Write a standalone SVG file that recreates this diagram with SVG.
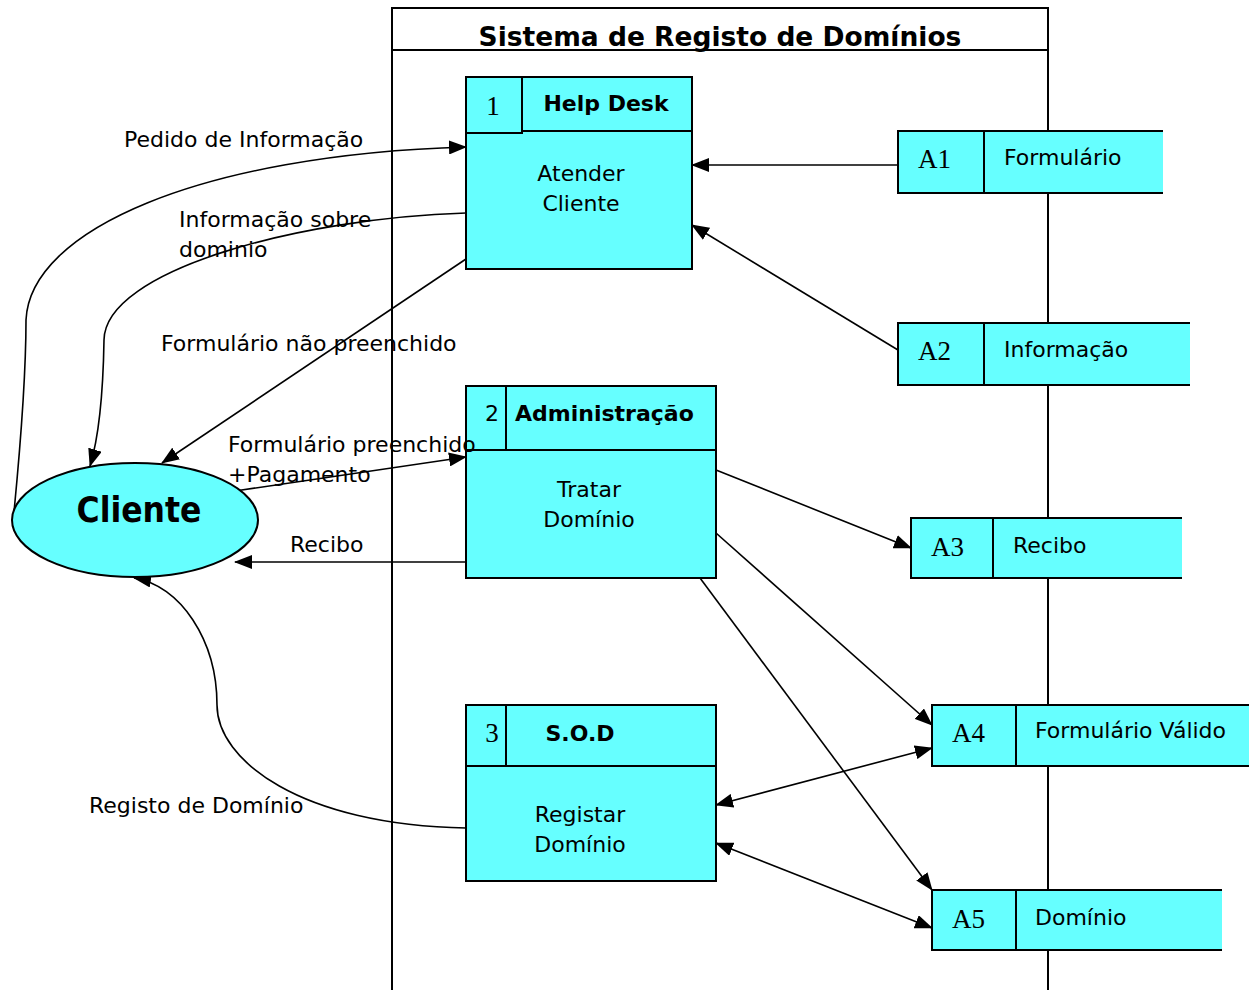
<svg xmlns="http://www.w3.org/2000/svg" width="1249" height="990" viewBox="0 0 1249 990">
<style>
.t{font-family:"DejaVu Sans",Verdana,sans-serif;font-size:22px;fill:#000}
.b{font-weight:bold}
.s{font-family:"Liberation Serif",serif;font-size:27px;fill:#000}
.box{fill:#66ffff;stroke:#000;stroke-width:2}
.ln{stroke:#000;stroke-width:2;fill:none}
.c{fill:none;stroke:#000;stroke-width:1.6}
</style>
<defs>
<marker id="ah" markerUnits="userSpaceOnUse" markerWidth="18" markerHeight="14" viewBox="0 0 18 14" refX="17" refY="7" orient="auto-start-reverse">
<path d="M0,0 L18,7 L0,14 Z" fill="#000"/>
</marker>
</defs>
<rect width="1249" height="990" fill="#fff"/>
<g id="system">
<rect x="392" y="8" width="656" height="990" fill="none" stroke="#000" stroke-width="2"/>
<line x1="392" y1="50" x2="1048" y2="50" class="ln"/>
<text x="720" y="46" text-anchor="middle" class="t b" style="font-size:26.5px">Sistema de Registo de Domínios</text>
</g>
<g id="connectors">
<path class="c" d="M14,512 C20,450 26,380 26,320 C30,230 200,155 466,147" marker-end="url(#ah)"/>
<path class="c" d="M466,213 C300,218 105,270 104,340 C103,400 98,440 90,466" marker-end="url(#ah)"/>
<line class="c" x1="466" y1="259" x2="162" y2="463" marker-end="url(#ah)"/>
<line class="c" x1="235" y1="491" x2="466" y2="457" marker-end="url(#ah)"/>
<line class="c" x1="466" y1="562" x2="235" y2="562" marker-end="url(#ah)"/>
<path class="c" d="M466,828 C300,825 217,760 217,705 C217,640 180,585 134,578" marker-end="url(#ah)"/>
<line class="c" x1="898" y1="165" x2="692" y2="165" marker-end="url(#ah)"/>
<line class="c" x1="898" y1="350" x2="692" y2="225" marker-end="url(#ah)"/>
<line class="c" x1="716" y1="470" x2="911" y2="548" marker-end="url(#ah)"/>
<line class="c" x1="716" y1="533" x2="932" y2="725" marker-end="url(#ah)"/>
<line class="c" x1="700" y1="578" x2="932" y2="890" marker-end="url(#ah)"/>
<line class="c" x1="716" y1="805" x2="932" y2="748" marker-start="url(#ah)" marker-end="url(#ah)"/>
<line class="c" x1="716" y1="843" x2="932" y2="928" marker-start="url(#ah)" marker-end="url(#ah)"/>
</g>
<g id="cliente">
<ellipse cx="135" cy="520" rx="123" ry="57" class="box"/>
<text x="139" y="522" text-anchor="middle" class="t b" style="font-family:'DejaVu Sans Condensed','DejaVu Sans',sans-serif;font-size:35px">Cliente</text>
</g>
<g id="p1">
<rect x="466" y="131" width="226" height="138" class="box"/>
<rect x="466" y="77" width="56" height="56" class="box"/>
<rect x="522" y="77" width="170" height="54" class="box"/>
<text x="493" y="115" text-anchor="middle" class="s">1</text>
<text x="606" y="111" text-anchor="middle" class="t b">Help Desk</text>
<text x="581" y="181" text-anchor="middle" class="t">Atender</text>
<text x="581" y="211" text-anchor="middle" class="t">Cliente</text>
</g>
<g id="p2">
<rect x="466" y="386" width="250" height="192" class="box"/>
<line x1="466" y1="450" x2="716" y2="450" class="ln"/>
<line x1="506" y1="386" x2="506" y2="450" class="ln"/>
<text x="492" y="421" text-anchor="middle" class="t">2</text>
<text x="515" y="421" class="t b">Administração</text>
<text x="589" y="497" text-anchor="middle" class="t">Tratar</text>
<text x="589" y="527" text-anchor="middle" class="t">Domínio</text>
</g>
<g id="p3">
<rect x="466" y="705" width="250" height="176" class="box"/>
<line x1="466" y1="766" x2="716" y2="766" class="ln"/>
<line x1="506" y1="705" x2="506" y2="766" class="ln"/>
<text x="492" y="742" text-anchor="middle" class="s">3</text>
<text x="580" y="741" text-anchor="middle" class="t b">S.O.D</text>
<text x="580" y="822" text-anchor="middle" class="t">Registar</text>
<text x="580" y="852" text-anchor="middle" class="t">Domínio</text>
</g>
<g id="a1">
<rect x="984" y="131" width="179" height="62" fill="#66ffff"/>
<path d="M984,131 H1163 M984,193 H1163" class="ln"/>
<rect x="898" y="131" width="86" height="62" class="box"/>
<text x="918" y="168" class="s">A1</text>
<text x="1004" y="165" class="t">Formulário</text>
</g>
<g id="a2">
<rect x="984" y="323" width="206" height="62" fill="#66ffff"/>
<path d="M984,323 H1190 M984,385 H1190" class="ln"/>
<rect x="898" y="323" width="86" height="62" class="box"/>
<text x="918" y="360" class="s">A2</text>
<text x="1004" y="357" class="t">Informação</text>
</g>
<g id="a3">
<rect x="993" y="518" width="189" height="60" fill="#66ffff"/>
<path d="M993,518 H1182 M993,578 H1182" class="ln"/>
<rect x="911" y="518" width="82" height="60" class="box"/>
<text x="931" y="556" class="s">A3</text>
<text x="1013" y="553" class="t">Recibo</text>
</g>
<g id="a4">
<rect x="1016" y="705" width="233" height="61" fill="#66ffff"/>
<path d="M1004,705 H1249 M1004,766 H1249" class="ln"/>
<rect x="932" y="705" width="84" height="61" class="box"/>
<text x="952" y="742" class="s">A4</text>
<text x="1035" y="738" class="t">Formulário Válido</text>
</g>
<g id="a5">
<rect x="1016" y="890" width="206" height="60" fill="#66ffff"/>
<path d="M1016,890 H1222 M1016,950 H1222" class="ln"/>
<rect x="932" y="890" width="84" height="60" class="box"/>
<text x="952" y="928" class="s">A5</text>
<text x="1035" y="925" class="t">Domínio</text>
</g>
<g id="connector-labels">
<text x="124" y="147" class="t">Pedido de Informação</text>
<text x="179" y="227" class="t">Informação sobre</text>
<text x="179" y="257" class="t">dominio</text>
<text x="161" y="351" class="t">Formulário não preenchido</text>
<text x="228" y="452" class="t">Formulário preenchido</text>
<text x="228" y="482" class="t">+Pagamento</text>
<text x="290" y="552" class="t">Recibo</text>
<text x="89" y="813" class="t">Registo de Domínio</text>
</g>
</svg>
